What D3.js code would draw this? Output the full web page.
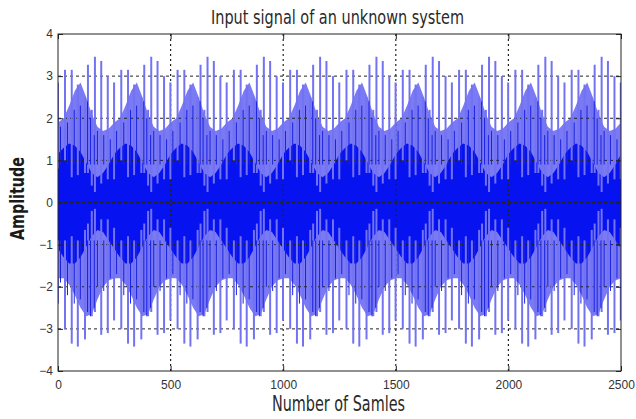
<!DOCTYPE html>
<html>
<head>
<meta charset="utf-8">
<script src="https://cdn.jsdelivr.net/npm/d3@7"></script>
<style>
  body { margin: 0; background: #fff; }
  svg { display: block; }
</style>
</head>
<body>
<svg id="chart" width="636" height="419"></svg>
<script>
// Axis ticks
const xTicks = [0, 500, 1000, 1500, 2000, 2500];
const yTicks = [-4, -3, -2, -1, 0, 1, 2, 3, 4];

// Envelope of the signal, read every 25 samples (0 … 2500)
const envSample = [
  0, 25, 50, 75, 100, 125, 150, 175, 200, 225,
  250, 275, 300, 325, 350, 375, 400, 425, 450, 475,
  500, 525, 550, 575, 600, 625, 650, 675, 700, 725,
  750, 775, 800, 825, 850, 875, 900, 925, 950, 975,
  1000, 1025, 1050, 1075, 1100, 1125, 1150, 1175, 1200, 1225,
  1250, 1275, 1300, 1325, 1350, 1375, 1400, 1425, 1450, 1475,
  1500, 1525, 1550, 1575, 1600, 1625, 1650, 1675, 1700, 1725,
  1750, 1775, 1800, 1825, 1850, 1875, 1900, 1925, 1950, 1975,
  2000, 2025, 2050, 2075, 2100, 2125, 2150, 2175, 2200, 2225,
  2250, 2275, 2300, 2325, 2350, 2375, 2400, 2425, 2450, 2475,
  2500
];
// outer (sparse) part of the trace: upper and lower edge
const bandHigh = [
  1.9, 2.0, 2.3, 2.65, 2.85, 2.5, 2.1, 1.8, 1.7, 1.75,
  1.9, 2.0, 2.3, 2.65, 2.85, 2.5, 2.1, 1.8, 1.7, 1.75,
  1.9, 2.0, 2.3, 2.65, 2.85, 2.5, 2.1, 1.8, 1.7, 1.75,
  1.9, 2.0, 2.3, 2.65, 2.85, 2.5, 2.1, 1.8, 1.7, 1.75,
  1.9, 2.0, 2.3, 2.65, 2.85, 2.5, 2.1, 1.8, 1.7, 1.75,
  1.9, 2.0, 2.3, 2.65, 2.85, 2.5, 2.1, 1.8, 1.7, 1.75,
  1.9, 2.0, 2.3, 2.65, 2.85, 2.5, 2.1, 1.8, 1.7, 1.75,
  1.9, 2.0, 2.3, 2.65, 2.85, 2.5, 2.1, 1.8, 1.7, 1.75,
  1.9, 2.0, 2.3, 2.65, 2.85, 2.5, 2.1, 1.8, 1.7, 1.75,
  1.9, 2.0, 2.3, 2.65, 2.85, 2.5, 2.1, 1.8, 1.7, 1.75,
  1.9
];
const bandLow = [
  -1.8, -1.8, -1.95, -2.2, -2.5, -2.7, -2.65, -2.3, -2.0, -1.85,
  -1.8, -1.8, -1.95, -2.2, -2.5, -2.7, -2.65, -2.3, -2.0, -1.85,
  -1.8, -1.8, -1.95, -2.2, -2.5, -2.7, -2.65, -2.3, -2.0, -1.85,
  -1.8, -1.8, -1.95, -2.2, -2.5, -2.7, -2.65, -2.3, -2.0, -1.85,
  -1.8, -1.8, -1.95, -2.2, -2.5, -2.7, -2.65, -2.3, -2.0, -1.85,
  -1.8, -1.8, -1.95, -2.2, -2.5, -2.7, -2.65, -2.3, -2.0, -1.85,
  -1.8, -1.8, -1.95, -2.2, -2.5, -2.7, -2.65, -2.3, -2.0, -1.85,
  -1.8, -1.8, -1.95, -2.2, -2.5, -2.7, -2.65, -2.3, -2.0, -1.85,
  -1.8, -1.8, -1.95, -2.2, -2.5, -2.7, -2.65, -2.3, -2.0, -1.85,
  -1.8, -1.8, -1.95, -2.2, -2.5, -2.7, -2.65, -2.3, -2.0, -1.85,
  -1.8
];
// dense core of the trace
const coreHigh = [
  1.15, 1.3, 1.4, 1.35, 1.2, 0.95, 0.7, 0.6, 0.7, 0.9,
  1.15, 1.3, 1.4, 1.35, 1.2, 0.95, 0.7, 0.6, 0.7, 0.9,
  1.15, 1.3, 1.4, 1.35, 1.2, 0.95, 0.7, 0.6, 0.7, 0.9,
  1.15, 1.3, 1.4, 1.35, 1.2, 0.95, 0.7, 0.6, 0.7, 0.9,
  1.15, 1.3, 1.4, 1.35, 1.2, 0.95, 0.7, 0.6, 0.7, 0.9,
  1.15, 1.3, 1.4, 1.35, 1.2, 0.95, 0.7, 0.6, 0.7, 0.9,
  1.15, 1.3, 1.4, 1.35, 1.2, 0.95, 0.7, 0.6, 0.7, 0.9,
  1.15, 1.3, 1.4, 1.35, 1.2, 0.95, 0.7, 0.6, 0.7, 0.9,
  1.15, 1.3, 1.4, 1.35, 1.2, 0.95, 0.7, 0.6, 0.7, 0.9,
  1.15, 1.3, 1.4, 1.35, 1.2, 0.95, 0.7, 0.6, 0.7, 0.9,
  1.15
];
const coreLow = [
  -1.1, -1.3, -1.45, -1.45, -1.3, -1.05, -0.8, -0.65, -0.7, -0.9,
  -1.1, -1.3, -1.45, -1.45, -1.3, -1.05, -0.8, -0.65, -0.7, -0.9,
  -1.1, -1.3, -1.45, -1.45, -1.3, -1.05, -0.8, -0.65, -0.7, -0.9,
  -1.1, -1.3, -1.45, -1.45, -1.3, -1.05, -0.8, -0.65, -0.7, -0.9,
  -1.1, -1.3, -1.45, -1.45, -1.3, -1.05, -0.8, -0.65, -0.7, -0.9,
  -1.1, -1.3, -1.45, -1.45, -1.3, -1.05, -0.8, -0.65, -0.7, -0.9,
  -1.1, -1.3, -1.45, -1.45, -1.3, -1.05, -0.8, -0.65, -0.7, -0.9,
  -1.1, -1.3, -1.45, -1.45, -1.3, -1.05, -0.8, -0.65, -0.7, -0.9,
  -1.1, -1.3, -1.45, -1.45, -1.3, -1.05, -0.8, -0.65, -0.7, -0.9,
  -1.1, -1.3, -1.45, -1.45, -1.3, -1.05, -0.8, -0.65, -0.7, -0.9,
  -1.1
];

// Individual excursions of the trace: sample, peak above, peak below,
// how far each stroke reaches back into the core, and the extent of its
// dense (dark) base
const strokeAt = [
  0,
  31, 61, 88, 120, 133, 150, 164, 192, 221, 249,
  281, 311, 338, 370, 383, 400, 414, 442, 471, 499,
  531, 561, 588, 620, 633, 650, 664, 692, 721, 749,
  781, 811, 838, 870, 883, 900, 914, 942, 971, 999,
  1031, 1061, 1088, 1120, 1133, 1150, 1164, 1192, 1221, 1249,
  1281, 1311, 1338, 1370, 1383, 1400, 1414, 1442, 1471, 1499,
  1531, 1561, 1588, 1620, 1633, 1650, 1664, 1692, 1721, 1749,
  1781, 1811, 1838, 1870, 1883, 1900, 1914, 1942, 1971, 1999,
  2031, 2061, 2088, 2120, 2133, 2150, 2164, 2192, 2221, 2249,
  2281, 2311, 2338, 2370, 2383, 2400, 2414, 2442, 2471, 2499
];
const strokeHigh = [
  2.85,
  3.15, 3.15, 2.8, 2.5, 3.27, 2.2, 3.46, 3.36, 3.0, 2.85,
  3.15, 3.15, 2.8, 2.5, 3.27, 2.2, 3.46, 3.36, 3.0, 2.85,
  3.15, 3.15, 2.8, 2.5, 3.27, 2.2, 3.46, 3.36, 3.0, 2.85,
  3.15, 3.15, 2.8, 2.5, 3.27, 2.2, 3.46, 3.36, 3.0, 2.85,
  3.15, 3.15, 2.8, 2.5, 3.27, 2.2, 3.46, 3.36, 3.0, 2.85,
  3.15, 3.15, 2.8, 2.5, 3.27, 2.2, 3.46, 3.36, 3.0, 2.85,
  3.15, 3.15, 2.8, 2.5, 3.27, 2.2, 3.46, 3.36, 3.0, 2.85,
  3.15, 3.15, 2.8, 2.5, 3.27, 2.2, 3.46, 3.36, 3.0, 2.85,
  3.15, 3.15, 2.8, 2.5, 3.27, 2.2, 3.46, 3.36, 3.0, 2.85,
  3.15, 3.15, 2.8, 2.5, 3.27, 2.2, 3.46, 3.36, 3.0, 2.85
];
const strokeLow = [
  -2.4,
  -3.0, -3.35, -3.42, -3.25, -2.6, -2.7, -2.6, -3.14, -3.1, -2.8,
  -3.0, -3.35, -3.42, -3.25, -2.6, -2.7, -2.6, -3.14, -3.1, -2.8,
  -3.0, -3.35, -3.42, -3.25, -2.6, -2.7, -2.6, -3.14, -3.1, -2.8,
  -3.0, -3.35, -3.42, -3.25, -2.6, -2.7, -2.6, -3.14, -3.1, -2.8,
  -3.0, -3.35, -3.42, -3.25, -2.6, -2.7, -2.6, -3.14, -3.1, -2.8,
  -3.0, -3.35, -3.42, -3.25, -2.6, -2.7, -2.6, -3.14, -3.1, -2.8,
  -3.0, -3.35, -3.42, -3.25, -2.6, -2.7, -2.6, -3.14, -3.1, -2.8,
  -3.0, -3.35, -3.42, -3.25, -2.6, -2.7, -2.6, -3.14, -3.1, -2.8,
  -3.0, -3.35, -3.42, -3.25, -2.6, -2.7, -2.6, -3.14, -3.1, -2.8,
  -3.0, -3.35, -3.42, -3.25, -2.6, -2.7, -2.6, -3.14, -3.1, -2.8
];
const strokeInHigh = [
  0.8,
  1.0, 0.6, 0.65, 0.7, 0.7, 0.4, 0.25, 0.45, 0.55, 0.55,
  1.0, 0.6, 0.65, 0.7, 0.7, 0.4, 0.25, 0.45, 0.55, 0.55,
  1.0, 0.6, 0.65, 0.7, 0.7, 0.4, 0.25, 0.45, 0.55, 0.55,
  1.0, 0.6, 0.65, 0.7, 0.7, 0.4, 0.25, 0.45, 0.55, 0.55,
  1.0, 0.6, 0.65, 0.7, 0.7, 0.4, 0.25, 0.45, 0.55, 0.55,
  1.0, 0.6, 0.65, 0.7, 0.7, 0.4, 0.25, 0.45, 0.55, 0.55,
  1.0, 0.6, 0.65, 0.7, 0.7, 0.4, 0.25, 0.45, 0.55, 0.55,
  1.0, 0.6, 0.65, 0.7, 0.7, 0.4, 0.25, 0.45, 0.55, 0.55,
  1.0, 0.6, 0.65, 0.7, 0.7, 0.4, 0.25, 0.45, 0.55, 0.55,
  1.0, 0.6, 0.65, 0.7, 0.7, 0.4, 0.25, 0.45, 0.55, 0.55
];
const strokeInLow = [
  -0.9,
  -0.9, -0.8, -0.9, -0.65, -0.5, -0.2, -0.15, -0.4, -0.4, -0.6,
  -0.9, -0.8, -0.9, -0.65, -0.5, -0.2, -0.15, -0.4, -0.4, -0.6,
  -0.9, -0.8, -0.9, -0.65, -0.5, -0.2, -0.15, -0.4, -0.4, -0.6,
  -0.9, -0.8, -0.9, -0.65, -0.5, -0.2, -0.15, -0.4, -0.4, -0.6,
  -0.9, -0.8, -0.9, -0.65, -0.5, -0.2, -0.15, -0.4, -0.4, -0.6,
  -0.9, -0.8, -0.9, -0.65, -0.5, -0.2, -0.15, -0.4, -0.4, -0.6,
  -0.9, -0.8, -0.9, -0.65, -0.5, -0.2, -0.15, -0.4, -0.4, -0.6,
  -0.9, -0.8, -0.9, -0.65, -0.5, -0.2, -0.15, -0.4, -0.4, -0.6,
  -0.9, -0.8, -0.9, -0.65, -0.5, -0.2, -0.15, -0.4, -0.4, -0.6,
  -0.9, -0.8, -0.9, -0.65, -0.5, -0.2, -0.15, -0.4, -0.4, -0.6
];
const denseHigh = [
  1.8,
  1.9, 2.2, 2.3, 2.4, 2.0, 1.6, 1.7, 1.6, 1.5, 1.7,
  1.9, 2.2, 2.3, 2.4, 2.0, 1.6, 1.7, 1.6, 1.5, 1.7,
  1.9, 2.2, 2.3, 2.4, 2.0, 1.6, 1.7, 1.6, 1.5, 1.7,
  1.9, 2.2, 2.3, 2.4, 2.0, 1.6, 1.7, 1.6, 1.5, 1.7,
  1.9, 2.2, 2.3, 2.4, 2.0, 1.6, 1.7, 1.6, 1.5, 1.7,
  1.9, 2.2, 2.3, 2.4, 2.0, 1.6, 1.7, 1.6, 1.5, 1.7,
  1.9, 2.2, 2.3, 2.4, 2.0, 1.6, 1.7, 1.6, 1.5, 1.7,
  1.9, 2.2, 2.3, 2.4, 2.0, 1.6, 1.7, 1.6, 1.5, 1.7,
  1.9, 2.2, 2.3, 2.4, 2.0, 1.6, 1.7, 1.6, 1.5, 1.7,
  1.9, 2.2, 2.3, 2.4, 2.0, 1.6, 1.7, 1.6, 1.5, 1.7
];
const denseLow = [
  -1.9,
  -2.2, -2.4, -2.3, -2.6, -2.7, -2.5, -2.0, -2.1, -1.8, -1.7,
  -2.2, -2.4, -2.3, -2.6, -2.7, -2.5, -2.0, -2.1, -1.8, -1.7,
  -2.2, -2.4, -2.3, -2.6, -2.7, -2.5, -2.0, -2.1, -1.8, -1.7,
  -2.2, -2.4, -2.3, -2.6, -2.7, -2.5, -2.0, -2.1, -1.8, -1.7,
  -2.2, -2.4, -2.3, -2.6, -2.7, -2.5, -2.0, -2.1, -1.8, -1.7,
  -2.2, -2.4, -2.3, -2.6, -2.7, -2.5, -2.0, -2.1, -1.8, -1.7,
  -2.2, -2.4, -2.3, -2.6, -2.7, -2.5, -2.0, -2.1, -1.8, -1.7,
  -2.2, -2.4, -2.3, -2.6, -2.7, -2.5, -2.0, -2.1, -1.8, -1.7,
  -2.2, -2.4, -2.3, -2.6, -2.7, -2.5, -2.0, -2.1, -1.8, -1.7,
  -2.2, -2.4, -2.3, -2.6, -2.7, -2.5, -2.0, -2.1, -1.8, -1.7
];

const titleText = "Input signal of an unknown system";
const xLabelText = "Number of Samles";
const yLabelText = "Amplitude";

// ---- layout ----
const plot = { left: 58, right: 621, top: 34, bottom: 371 };
const svg = d3.select("#chart");

const x = d3.scaleLinear().domain([0, 2500]).range([plot.left, plot.right]);
const y = d3.scaleLinear().domain([-4, 4]).range([plot.bottom, plot.top]);

svg.append("defs").append("clipPath").attr("id", "plotClip")
  .append("rect")
  .attr("x", plot.left).attr("y", plot.top)
  .attr("width", plot.right - plot.left).attr("height", plot.bottom - plot.top);

const lightBlue = "#7a7af4";
const strokeBlue = "#7272f2";
const deepBlue = "#0612f0";

const env = envSample.map((s, i) => ({
  s, bh: bandHigh[i], bl: bandLow[i], ch: coreHigh[i], cl: coreLow[i]
}));
const strokes = strokeAt.map((s, i) => ({
  s, hi: strokeHigh[i], lo: strokeLow[i], ih: strokeInHigh[i], il: strokeInLow[i],
  dh: denseHigh[i], dl: denseLow[i]
}));

const data = svg.append("g").attr("clip-path", "url(#plotClip)");

// sparse outer band
data.append("path")
  .datum(env)
  .attr("fill", lightBlue)
  .attr("d", d3.area().x(d => x(d.s)).y0(d => y(d.bl)).y1(d => y(d.bh)));

// grid (dotted, MATLAB style)
const grid = svg.append("g").attr("clip-path", "url(#plotClip)");
grid.selectAll("line.h")
  .data(yTicks.filter(t => t > -4 && t < 4))
  .join("line")
  .attr("x1", plot.left).attr("x2", plot.right)
  .attr("y1", d => y(d)).attr("y2", d => y(d))
  .attr("stroke", "#222").attr("stroke-width", 1)
  .attr("stroke-dasharray", "3,3");
grid.selectAll("line.v")
  .data(xTicks.filter(t => t > 0 && t < 2500))
  .join("line")
  .attr("y1", plot.top).attr("y2", plot.bottom)
  .attr("x1", d => x(d)).attr("x2", d => x(d))
  .attr("stroke", "#222").attr("stroke-width", 1.2)
  .attr("stroke-dasharray", "2,3");

// dense core
data.append("path")
  .datum(env)
  .attr("fill", deepBlue)
  .attr("d", d3.area().x(d => x(d.s)).y0(d => y(d.cl)).y1(d => y(d.ch)));

// light excursions
const strokeG = svg.append("g").attr("clip-path", "url(#plotClip)")
  .attr("stroke", strokeBlue).attr("stroke-width", 2);
strokeG.selectAll("line.up")
  .data(strokes)
  .join("line")
  .attr("x1", d => x(d.s)).attr("x2", d => x(d.s))
  .attr("y1", d => y(d.hi)).attr("y2", d => y(d.ih));
strokeG.selectAll("line.down")
  .data(strokes)
  .join("line")
  .attr("x1", d => x(d.s)).attr("x2", d => x(d.s))
  .attr("y1", d => y(d.lo)).attr("y2", d => y(d.il));

// dark bases of the excursions, running out of the core
const denseG = svg.append("g").attr("clip-path", "url(#plotClip)")
  .attr("stroke", "#1a22e0").attr("stroke-width", 1);
denseG.selectAll("line.dup")
  .data(strokes)
  .join("line")
  .attr("x1", d => x(d.s) + 2.5).attr("x2", d => x(d.s) + 2.5)
  .attr("y1", d => y(d.dh)).attr("y2", d => y(0.9));
denseG.selectAll("line.ddown")
  .data(strokes)
  .join("line")
  .attr("x1", d => x(d.s) + 2.5).attr("x2", d => x(d.s) + 2.5)
  .attr("y1", d => y(d.dl)).attr("y2", d => y(-0.9));

// ---- axes ----
const tickFont = "'Liberation Sans', Arial, sans-serif";

const yAxis = svg.append("g")
  .attr("transform", `translate(${plot.left},0)`)
  .call(d3.axisLeft(y).tickValues(yTicks).tickSize(-5).tickPadding(5).tickFormat(d3.format("d")));
const xAxis = svg.append("g")
  .attr("transform", `translate(0,${plot.bottom})`)
  .call(d3.axisBottom(x).tickValues(xTicks).tickSize(-5).tickPadding(9).tickFormat(d3.format("d")));
svg.append("g")
  .attr("transform", `translate(${plot.right},0)`)
  .call(d3.axisRight(y).tickValues(yTicks).tickSize(-5).tickFormat(""));
svg.append("g")
  .attr("transform", `translate(0,${plot.top})`)
  .call(d3.axisTop(x).tickValues(xTicks).tickSize(-5).tickFormat(""));

svg.selectAll(".domain").remove();
svg.selectAll(".tick line").attr("stroke", "#222");
[yAxis, xAxis].forEach(a => a.selectAll("text")
  .attr("font-family", tickFont).attr("font-size", 12).attr("fill", "#333"));

// axes box
svg.append("rect")
  .attr("x", plot.left).attr("y", plot.top)
  .attr("width", plot.right - plot.left).attr("height", plot.bottom - plot.top)
  .attr("fill", "none").attr("stroke", "#222").attr("stroke-width", 1);

// ---- labels ----
const narrow = "'Liberation Sans Narrow', 'DejaVu Sans Condensed', 'Roboto Condensed', sans-serif";

svg.append("text")
  .attr("x", 337.5).attr("y", 24)
  .attr("text-anchor", "middle")
  .attr("font-family", narrow).attr("font-size", 20)
  .attr("fill", "#2a2a2a")
  .attr("textLength", 253).attr("lengthAdjust", "spacingAndGlyphs")
  .text(titleText);

svg.append("text")
  .attr("x", 338.5).attr("y", 411)
  .attr("text-anchor", "middle")
  .attr("font-family", narrow).attr("font-size", 22)
  .attr("fill", "#2a2a2a")
  .attr("textLength", 133).attr("lengthAdjust", "spacingAndGlyphs")
  .text(xLabelText);

svg.append("text")
  .attr("transform", "translate(24,198.5) rotate(-90)")
  .attr("text-anchor", "middle")
  .attr("font-family", narrow).attr("font-size", 20).attr("font-weight", "bold")
  .attr("fill", "#1a1a1a")
  .attr("textLength", 83).attr("lengthAdjust", "spacingAndGlyphs")
  .text(yLabelText);
</script>
</body>
</html>
